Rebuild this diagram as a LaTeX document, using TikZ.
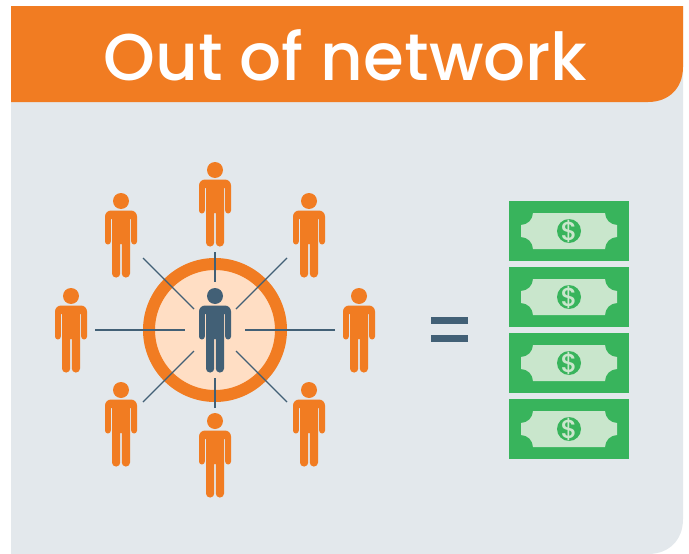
\documentclass[tikz,border=0pt]{standalone}
\usepackage{fontspec}
\setmainfont{Poppins}
\newfontfamily\headfont{Poppins Medium}
\definecolor{orangeC}{HTML}{F17C22}
\definecolor{panelC}{HTML}{E3E8EC}
\definecolor{peachC}{HTML}{FFDEC4}
\definecolor{navyC}{HTML}{426076}
\definecolor{greenC}{HTML}{38B45C}
\definecolor{paleC}{HTML}{C9E6CC}
\tikzset{
  spoke/.style={draw=navyC,line width=1.1pt},
  bar/.style={fill=navyC},
  person/.pic={
    \fill (0,0) circle (8pt);
    \fill (0,9.5) [rounded corners=6pt] -- (16,9.5) [rounded corners=2.9pt] -- (16,43.5) -- (10.2,43.5) [sharp corners] -- (10.2,18) -- (9,18)
      [rounded corners=3.9pt] -- (9,76.5) -- (0.8,76.5) [sharp corners] -- (0.8,43) -- (-0.8,43)
      [rounded corners=3.9pt] -- (-0.8,76.5) -- (-9,76.5) [sharp corners] -- (-9,18) -- (-10.2,18)
      [rounded corners=2.9pt] -- (-10.2,43.5) -- (-16,43.5) [rounded corners=6pt] -- (-16,9.5) [sharp corners] -- cycle;
  },
  bill/.pic={
    \fill[greenC] (-60,-30) rectangle (60,30);
    \fill[paleC] (-36,-18) -- (36,-18) .. controls (36,-11.4) and (41.4,-6) .. (48,-6) -- (48,6)
      .. controls (41.4,6) and (36,11.4) .. (36,18) -- (-36,18)
      .. controls (-36,11.4) and (-41.4,6) .. (-48,6) -- (-48,-6)
      .. controls (-41.4,-6) and (-36,-11.4) .. (-36,-18) -- cycle;
    \fill[greenC] (0,0) circle (12pt);
    \node[text=paleC,font=\fontsize{26}{26}\selectfont\headfont,inner sep=0pt] at (0,0) {\$};
  }
}
\begin{document}
\begin{tikzpicture}[x=1pt,y=-1pt]
\useasboundingbox (0,0) rectangle (689,554);
\fill[white] (0,0) rectangle (689,554);
% panel
\fill[panelC] (11,6) -- (683,6) -- (683,519) .. controls (683,540) and (669,554) .. (648,554) -- (11,554) -- cycle;
\fill[orangeC] (11,6) -- (683,6) -- (683,67) .. controls (683,88) and (669,102) .. (648,102) -- (11,102) -- cycle;
\node[text=white,font=\fontsize{66}{66}\selectfont\headfont,inner sep=0pt,anchor=base] (title) at (345.5,80) {Out of network};
% ring
\node[circle,draw=orangeC,fill=peachC,line width=12pt,minimum size=132pt,inner sep=0pt] (ring) at (215,330) {};
% spoke ends
\coordinate (a1) at (215,252); \coordinate (b1) at (215,282);
\coordinate (a2) at (287,258); \coordinate (b2) at (236,309);
\coordinate (a3) at (335,330); \coordinate (b3) at (245,330);
\coordinate (a4) at (287,402); \coordinate (b4) at (236,351);
\coordinate (a5) at (215,408); \coordinate (b5) at (215,378);
\coordinate (a6) at (143,402); \coordinate (b6) at (194,351);
\coordinate (a7) at (95,330);  \coordinate (b7) at (185,330);
\coordinate (a8) at (143,258); \coordinate (b8) at (194,309);
\foreach \i in {1,...,8} \draw[spoke] (a\i) -- (b\i);
% people
\foreach \x/\y in {215/170,309/201,359/296,309/390,215/421,121/390,71/296,121/201}
  \pic[orangeC] at (\x,\y) {person};
\pic[navyC] at (215,296) {person};
% equals
\fill[bar] (431,317) rectangle (468,324);
\fill[bar] (431,335) rectangle (468,342);
% bills
\foreach \y in {231,297,363,429} \pic at (569,\y) {bill};
\end{tikzpicture}
\end{document}
